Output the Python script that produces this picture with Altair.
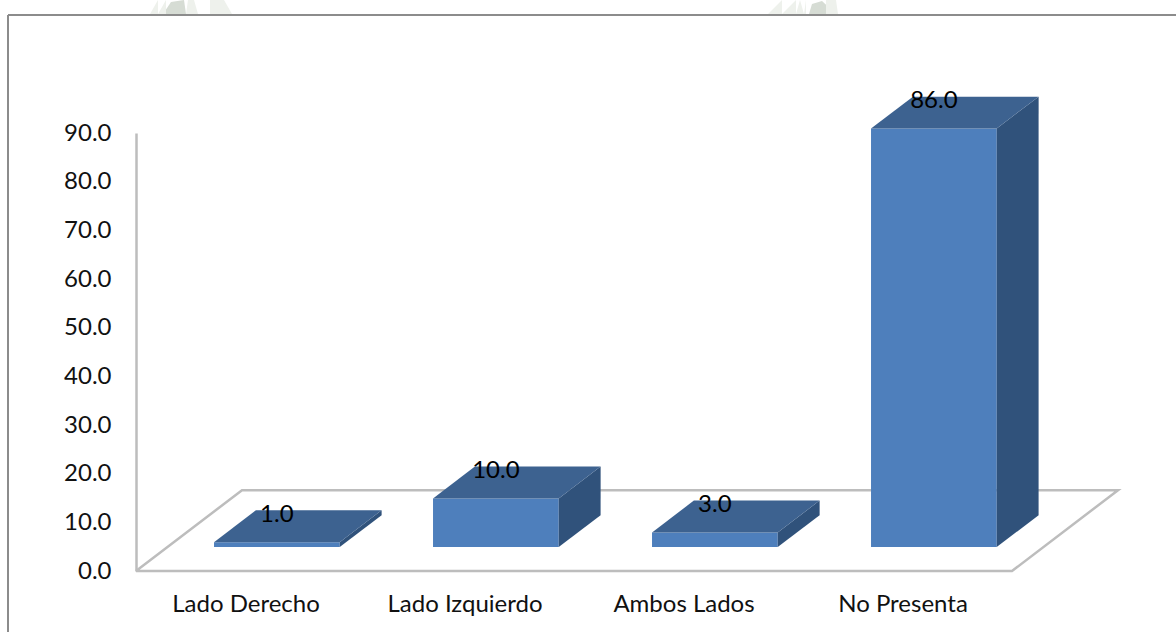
import json
import altair as alt
import pandas as pd

categories = ["Lado Derecho", "Lado Izquierdo", "Ambos Lados", "No Presenta"]
values = [1.0, 10.0, 3.0, 86.0]
y_ticks = [0, 10, 20, 30, 40, 50, 60, 70, 80, 90]

FONT = "Lato"
FONT_SIZE = 24
GREY = "#bdbdbd"

# Oblique projection of the chart floor: a unit of depth moves a point
# right by DEPTH_X category slots and up by DEPTH_Y value units.
DEPTH_X = 0.484
DEPTH_Y = 16.6
BAR_NEAR = 0.296
BAR_DEEP = 0.395
HALF_WIDTH = 0.287

# Plot-area metrics, used for the page decoration above the frame.
PLOT_LEFT, PLOT_BOTTOM, PX_PER_SLOT, PX_PER_VALUE = 136, 571, 219.0, 438 / 90


def project(slot, value, depth=0.0):
    return slot + DEPTH_X * depth, value + DEPTH_Y * depth


def bar_faces():
    rows = []
    for i, v in enumerate(values):
        left, base = project(i + 0.5 - HALF_WIDTH, 0, BAR_NEAR)
        right = left + 2 * HALF_WIDTH
        top = base + v
        dx = DEPTH_X * BAR_DEEP
        dy = DEPTH_Y * BAR_DEEP
        faces = {
            "front": [(left, base, top), (right, base, top)],
            "side": [(right, base, top), (right + dx, base + dy, top + dy)],
            "top": [
                (left, top, top),
                (left + dx, top, top + dy),
                (right, top, top + dy),
                (right + dx, top + dy, top + dy),
            ],
        }
        for face, pts in faces.items():
            for x, y0, y1 in pts:
                rows.append({"bar": i, "face": face, "x": x, "y0": y0, "y1": y1})
    return pd.DataFrame(rows)


def emblem_pieces():
    # Faint emblem fragments showing above the frame: (shade, [(px, top py), ...]).
    pieces = [
        ("dark", [(163, 14), (171, 2), (184, 0), (186, 14)]),
        ("pale", [(150, 14), (158, 0), (166, 0), (158, 14)]),
        ("pale", [(186, 14), (188, 0), (194, 0), (198, 14)]),
        ("pale", [(210, 0), (224, 0), (246, 14), (232, 14)]),
        ("dark", [(809, 14), (812, 4), (822, 1), (836, 14)]),
        ("pale", [(768, 14), (782, 0), (796, 0), (782, 14)]),
        ("pale", [(796, 14), (800, 0), (806, 0), (804, 14)]),
        ("pale", [(826, 0), (836, 0), (842, 14), (838, 14)]),
    ]
    rows = []
    for n, (shade, pts) in enumerate(pieces):
        # Each piece is a band from the frame line up to its outline.
        for px, py in sorted(pts):
            rows.append(
                {
                    "piece": n,
                    "shade": shade,
                    "x": (px - PLOT_LEFT) / PX_PER_SLOT,
                    "y0": (PLOT_BOTTOM - 14) / PX_PER_VALUE,
                    "y1": (PLOT_BOTTOM - py) / PX_PER_VALUE,
                }
            )
    return pd.DataFrame(rows)


corners = [(0, 0), (4, 0), (4, 1), (0, 1), (0, 0)]
floor = pd.DataFrame(
    [
        {"seq": n, "x": project(s, 0, d)[0], "y": project(s, 0, d)[1]}
        for n, (s, d) in enumerate(corners)
    ]
)

labels = pd.DataFrame(
    {
        "x": [project(i + 0.5, 0, BAR_NEAR)[0] for i in range(len(values))],
        "y": [project(0, v, BAR_NEAR)[1] + 5.6 for v in values],
        "value": values,
    }
)

x_scale = alt.Scale(domain=[0, 4], nice=False, zero=False)
y_scale = alt.Scale(domain=[0, 90], nice=False)

x_axis = alt.Axis(
    title=None,
    values=[0.5, 1.5, 2.5, 3.5],
    labelExpr=json.dumps(categories) + "[floor(datum.value)]",
    domain=False,
    ticks=False,
    grid=False,
    labelFont=FONT,
    labelFontSize=FONT_SIZE,
    labelColor="#111111",
    labelPadding=21,
    labelAngle=0,
)
y_axis = alt.Axis(
    title=None,
    values=y_ticks,
    format=".1f",
    domain=True,
    domainColor=GREY,
    domainWidth=2.5,
    ticks=False,
    grid=False,
    labelFont=FONT,
    labelFontSize=FONT_SIZE,
    labelColor="#111111",
    labelPadding=25,
)

emblem_layer = (
    alt.Chart(emblem_pieces())
    .mark_area(clip=False)
    .encode(
        x=alt.X("x:Q", scale=x_scale),
        y=alt.Y("y0:Q", scale=y_scale),
        y2="y1:Q",
        color=alt.Color(
            "shade:N",
            scale=alt.Scale(domain=["dark", "pale"], range=["#d6dcd4", "#eef1ec"]),
            legend=None,
        ),
        detail="piece:N",
    )
)

floor_layer = (
    alt.Chart(floor)
    .mark_line(color=GREY, strokeWidth=2.5, clip=False)
    .encode(
        x=alt.X("x:Q", scale=x_scale, axis=x_axis),
        y=alt.Y("y:Q", scale=y_scale, axis=y_axis),
        order="seq:O",
    )
)

bars_layer = (
    alt.Chart(bar_faces())
    .mark_area(clip=False, opacity=1)
    .encode(
        x=alt.X("x:Q", scale=x_scale),
        y=alt.Y("y0:Q", scale=y_scale),
        y2="y1:Q",
        color=alt.Color(
            "face:N",
            scale=alt.Scale(
                domain=["front", "side", "top"],
                range=["#4e7fbc", "#30527b", "#3d6290"],
            ),
            legend=None,
        ),
        detail="bar:N",
    )
)

text_layer = (
    alt.Chart(labels)
    .mark_text(font=FONT, fontSize=FONT_SIZE, color="#000000", baseline="middle", clip=False)
    .encode(
        x=alt.X("x:Q", scale=x_scale),
        y=alt.Y("y:Q", scale=y_scale),
        text=alt.Text("value:Q", format=".1f"),
    )
)

# Outer frame: only its top and left edges fall inside the page.
frame_left = (
    alt.Chart(pd.DataFrame({"k": [0]}))
    .mark_rule(color="#8c8c8c", strokeWidth=2)
    .encode(x=alt.value(-128), y=alt.value(-118), y2=alt.value(520))
)
frame_top = (
    alt.Chart(pd.DataFrame({"k": [0]}))
    .mark_rule(color="#8c8c8c", strokeWidth=2)
    .encode(x=alt.value(-128), x2=alt.value(1060), y=alt.value(-118))
)

chart = (
    alt.layer(emblem_layer, frame_left, frame_top, floor_layer, bars_layer, text_layer)
    .resolve_scale(color="independent")
    .properties(
        width=876,
        height=438,
        padding={"left": 136, "top": 133, "right": 164, "bottom": 61},
        autosize=alt.AutoSizeParams(type="none"),
        background="#ffffff",
    )
    .configure_view(stroke=None)
)

chart.save("out.html", embed_options={"renderer": "svg", "actions": False})
